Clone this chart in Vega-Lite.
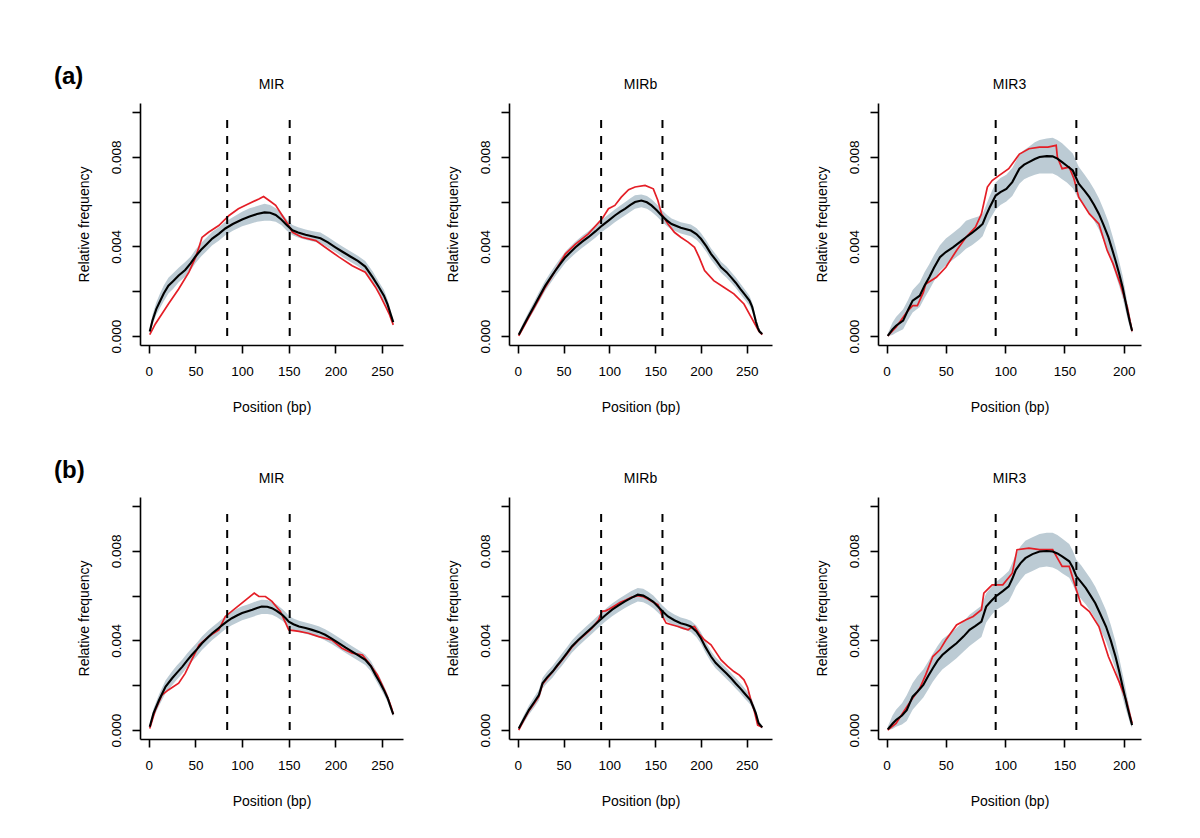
{
"$schema": "https://vega.github.io/schema/vega-lite/v6.json",
"background": "white",
"padding": {"left": 54, "top": 65, "right": 5, "bottom": 5},
"config": {
  "view": {"stroke": null},
  "font": "Liberation Sans",
  "axis": {"grid": false, "domainColor": "#000", "domainWidth": 1.6, "tickColor": "#000", "tickWidth": 1.6, "tickSize": 8, "labelColor": "#000", "labelFontSize": 13.5, "labelFont": "Liberation Sans", "titleFont": "Liberation Sans", "titleFontSize": 14, "titleFontWeight": "normal", "titleColor": "#000", "labelOverlap": false, "labelFlush": false},
  "axisX": {"labelPadding": 11, "titlePadding": 23},
  "axisY": {"labelAngle": 270, "labelAlign": "center", "labelBaseline": "bottom", "labelPadding": 9, "titlePadding": 18},
  "title": {"fontSize": 14, "fontWeight": "normal", "font": "Liberation Sans", "anchor": "middle", "frame": "group", "offset": 11, "color": "#000"}
},
"datasets": {
"band": [
{"p":"a1","x":1,"m":0.0002,"lo":0.0001,"hi":0.0003},{"p":"a1","x":4,"m":0.0007,"lo":0.0005,"hi":0.00095},{"p":"a1","x":8,"m":0.0012,"lo":0.00095,"hi":0.0015},{"p":"a1","x":12,"m":0.00155,"lo":0.00125,"hi":0.0019},{"p":"a1","x":16,"m":0.0019,"lo":0.00155,"hi":0.00225},{"p":"a1","x":21,"m":0.00225,"lo":0.0019,"hi":0.0026},{"p":"a1","x":26,"m":0.00245,"lo":0.0021,"hi":0.0028},{"p":"a1","x":32,"m":0.0027,"lo":0.0024,"hi":0.00305},{"p":"a1","x":39,"m":0.00295,"lo":0.00265,"hi":0.0033},{"p":"a1","x":45,"m":0.00325,"lo":0.00295,"hi":0.00355},{"p":"a1","x":50,"m":0.00355,"lo":0.00325,"hi":0.00385},{"p":"a1","x":56,"m":0.00385,"lo":0.00355,"hi":0.00415},{"p":"a1","x":62,"m":0.0041,"lo":0.0038,"hi":0.0044},{"p":"a1","x":68,"m":0.00435,"lo":0.00405,"hi":0.00465},{"p":"a1","x":75,"m":0.00456,"lo":0.00425,"hi":0.00485},{"p":"a1","x":82,"m":0.0048,"lo":0.0045,"hi":0.0051},{"p":"a1","x":90,"m":0.005,"lo":0.0047,"hi":0.0053},{"p":"a1","x":100,"m":0.0052,"lo":0.0049,"hi":0.00555},{"p":"a1","x":108,"m":0.00533,"lo":0.005,"hi":0.0057},{"p":"a1","x":116,"m":0.00545,"lo":0.0051,"hi":0.0058},{"p":"a1","x":124,"m":0.00552,"lo":0.00515,"hi":0.0059},{"p":"a1","x":130,"m":0.0055,"lo":0.00515,"hi":0.00585},{"p":"a1","x":136,"m":0.0054,"lo":0.0051,"hi":0.0057},{"p":"a1","x":142,"m":0.0052,"lo":0.00495,"hi":0.0055},{"p":"a1","x":148,"m":0.00495,"lo":0.0047,"hi":0.0052},{"p":"a1","x":154,"m":0.00472,"lo":0.0045,"hi":0.00495},{"p":"a1","x":160,"m":0.00462,"lo":0.0044,"hi":0.00485},{"p":"a1","x":168,"m":0.00452,"lo":0.0043,"hi":0.00475},{"p":"a1","x":176,"m":0.00444,"lo":0.00422,"hi":0.00468},{"p":"a1","x":184,"m":0.00436,"lo":0.00415,"hi":0.00462},{"p":"a1","x":192,"m":0.00418,"lo":0.00395,"hi":0.00442},{"p":"a1","x":200,"m":0.00396,"lo":0.00375,"hi":0.0042},{"p":"a1","x":208,"m":0.00375,"lo":0.00352,"hi":0.00398},{"p":"a1","x":216,"m":0.00355,"lo":0.00332,"hi":0.00378},{"p":"a1","x":224,"m":0.00335,"lo":0.00312,"hi":0.00358},{"p":"a1","x":232,"m":0.0031,"lo":0.00288,"hi":0.00335},{"p":"a1","x":240,"m":0.00262,"lo":0.0024,"hi":0.00288},{"p":"a1","x":246,"m":0.00222,"lo":0.002,"hi":0.00246},{"p":"a1","x":252,"m":0.0018,"lo":0.00155,"hi":0.00205},{"p":"a1","x":256,"m":0.0014,"lo":0.0012,"hi":0.00162},{"p":"a1","x":259,"m":0.001,"lo":0.00085,"hi":0.00118},{"p":"a1","x":262,"m":0.00062,"lo":0.0005,"hi":0.00075},

{"p":"a2","x":1,"m":0.00006,"lo":0.0,"hi":0.00015},{"p":"a2","x":6,"m":0.00045,"lo":0.0003,"hi":0.0006},{"p":"a2","x":12,"m":0.00091,"lo":0.00075,"hi":0.0011},{"p":"a2","x":18,"m":0.00135,"lo":0.00115,"hi":0.00155},{"p":"a2","x":23,"m":0.00173,"lo":0.00152,"hi":0.00195},{"p":"a2","x":30,"m":0.00225,"lo":0.00202,"hi":0.00248},{"p":"a2","x":36,"m":0.00262,"lo":0.00238,"hi":0.00286},{"p":"a2","x":41,"m":0.00292,"lo":0.00268,"hi":0.00316},{"p":"a2","x":47,"m":0.00325,"lo":0.003,"hi":0.0035},{"p":"a2","x":52,"m":0.00352,"lo":0.00327,"hi":0.00377},{"p":"a2","x":58,"m":0.00376,"lo":0.0035,"hi":0.00402},{"p":"a2","x":63,"m":0.00396,"lo":0.0037,"hi":0.00422},{"p":"a2","x":70,"m":0.0042,"lo":0.00393,"hi":0.00446},{"p":"a2","x":77,"m":0.00441,"lo":0.00414,"hi":0.00468},{"p":"a2","x":85,"m":0.00468,"lo":0.0044,"hi":0.00495},{"p":"a2","x":92,"m":0.00493,"lo":0.00465,"hi":0.0052},{"p":"a2","x":99,"m":0.00515,"lo":0.00486,"hi":0.00542},{"p":"a2","x":106,"m":0.00538,"lo":0.00508,"hi":0.00565},{"p":"a2","x":112,"m":0.00555,"lo":0.00525,"hi":0.00583},{"p":"a2","x":117,"m":0.00568,"lo":0.00538,"hi":0.00597},{"p":"a2","x":123,"m":0.00585,"lo":0.00555,"hi":0.00615},{"p":"a2","x":128,"m":0.00598,"lo":0.00568,"hi":0.00628},{"p":"a2","x":135,"m":0.00605,"lo":0.00575,"hi":0.00632},{"p":"a2","x":141,"m":0.00597,"lo":0.00568,"hi":0.00625},{"p":"a2","x":146,"m":0.00583,"lo":0.00555,"hi":0.0061},{"p":"a2","x":152,"m":0.0056,"lo":0.00533,"hi":0.00587},{"p":"a2","x":157,"m":0.00538,"lo":0.00512,"hi":0.00564},{"p":"a2","x":163,"m":0.00515,"lo":0.0049,"hi":0.0054},{"p":"a2","x":168,"m":0.005,"lo":0.00476,"hi":0.00525},{"p":"a2","x":178,"m":0.00483,"lo":0.00458,"hi":0.00508},{"p":"a2","x":189,"m":0.00471,"lo":0.00445,"hi":0.00498},{"p":"a2","x":195,"m":0.00455,"lo":0.0043,"hi":0.00482},{"p":"a2","x":200,"m":0.00434,"lo":0.00408,"hi":0.0046},{"p":"a2","x":206,"m":0.004,"lo":0.00375,"hi":0.00425},{"p":"a2","x":211,"m":0.00367,"lo":0.00342,"hi":0.00392},{"p":"a2","x":217,"m":0.00335,"lo":0.0031,"hi":0.0036},{"p":"a2","x":222,"m":0.00307,"lo":0.00282,"hi":0.00332},{"p":"a2","x":228,"m":0.00285,"lo":0.0026,"hi":0.0031},{"p":"a2","x":233,"m":0.00262,"lo":0.00238,"hi":0.00286},{"p":"a2","x":238,"m":0.00238,"lo":0.00215,"hi":0.00262},{"p":"a2","x":243,"m":0.0021,"lo":0.00188,"hi":0.00234},{"p":"a2","x":248,"m":0.00185,"lo":0.00162,"hi":0.00208},{"p":"a2","x":253,"m":0.00158,"lo":0.00135,"hi":0.0018},{"p":"a2","x":256,"m":0.0013,"lo":0.0011,"hi":0.0015},{"p":"a2","x":258,"m":0.00098,"lo":0.0008,"hi":0.00118},{"p":"a2","x":260,"m":0.00065,"lo":0.0005,"hi":0.00082},{"p":"a2","x":262,"m":0.00039,"lo":0.00028,"hi":0.00052},{"p":"a2","x":264,"m":0.0002,"lo":0.00012,"hi":0.0003},{"p":"a2","x":267,"m":0.00009,"lo":0.00004,"hi":0.00016},

{"p":"a3","x":1,"m":0.00001,"lo":0.0,"hi":0.0001},{"p":"a3","x":5,"m":0.0003,"lo":0.00005,"hi":0.0006},{"p":"a3","x":8,"m":0.00046,"lo":0.00015,"hi":0.00085},{"p":"a3","x":14,"m":0.00069,"lo":0.0003,"hi":0.0012},{"p":"a3","x":18,"m":0.00115,"lo":0.0007,"hi":0.0016},{"p":"a3","x":22,"m":0.00158,"lo":0.00105,"hi":0.00205},{"p":"a3","x":28,"m":0.0018,"lo":0.0013,"hi":0.0024},{"p":"a3","x":32,"m":0.00225,"lo":0.0017,"hi":0.00285},{"p":"a3","x":36,"m":0.00262,"lo":0.00205,"hi":0.0032},{"p":"a3","x":40,"m":0.00305,"lo":0.00245,"hi":0.0036},{"p":"a3","x":45,"m":0.00352,"lo":0.0029,"hi":0.00405},{"p":"a3","x":50,"m":0.00375,"lo":0.00315,"hi":0.00435},{"p":"a3","x":56,"m":0.00396,"lo":0.0034,"hi":0.0046},{"p":"a3","x":62,"m":0.0042,"lo":0.00365,"hi":0.00485},{"p":"a3","x":67,"m":0.00441,"lo":0.0039,"hi":0.00515},{"p":"a3","x":72,"m":0.0046,"lo":0.00405,"hi":0.00525},{"p":"a3","x":78,"m":0.00486,"lo":0.0043,"hi":0.00535},{"p":"a3","x":81,"m":0.005,"lo":0.00445,"hi":0.00545},{"p":"a3","x":84,"m":0.0054,"lo":0.00485,"hi":0.00585},{"p":"a3","x":87,"m":0.00575,"lo":0.0052,"hi":0.00625},{"p":"a3","x":92,"m":0.00627,"lo":0.00565,"hi":0.00685},{"p":"a3","x":96,"m":0.00642,"lo":0.00585,"hi":0.00705},{"p":"a3","x":101,"m":0.00657,"lo":0.006,"hi":0.0072},{"p":"a3","x":106,"m":0.00687,"lo":0.00625,"hi":0.0075},{"p":"a3","x":112,"m":0.00747,"lo":0.0068,"hi":0.0081},{"p":"a3","x":116,"m":0.00765,"lo":0.007,"hi":0.0083},{"p":"a3","x":120,"m":0.00776,"lo":0.0071,"hi":0.00845},{"p":"a3","x":125,"m":0.0079,"lo":0.0072,"hi":0.00865},{"p":"a3","x":129,"m":0.00799,"lo":0.00725,"hi":0.00875},{"p":"a3","x":135,"m":0.00803,"lo":0.00725,"hi":0.00882},{"p":"a3","x":140,"m":0.00802,"lo":0.00725,"hi":0.00885},{"p":"a3","x":144,"m":0.00792,"lo":0.00715,"hi":0.00875},{"p":"a3","x":148,"m":0.00776,"lo":0.007,"hi":0.0086},{"p":"a3","x":152,"m":0.0076,"lo":0.00685,"hi":0.0084},{"p":"a3","x":157,"m":0.00739,"lo":0.0066,"hi":0.00815},{"p":"a3","x":162,"m":0.0068,"lo":0.0061,"hi":0.00755},{"p":"a3","x":167,"m":0.00648,"lo":0.0058,"hi":0.0072},{"p":"a3","x":171,"m":0.0062,"lo":0.0055,"hi":0.0069},{"p":"a3","x":175,"m":0.00585,"lo":0.00515,"hi":0.00655},{"p":"a3","x":179,"m":0.00545,"lo":0.00475,"hi":0.00615},{"p":"a3","x":183,"m":0.00495,"lo":0.00425,"hi":0.00565},{"p":"a3","x":187,"m":0.00441,"lo":0.00375,"hi":0.0051},{"p":"a3","x":190,"m":0.0039,"lo":0.00325,"hi":0.00455},{"p":"a3","x":193,"m":0.00337,"lo":0.00275,"hi":0.004},{"p":"a3","x":196,"m":0.0028,"lo":0.00225,"hi":0.00335},{"p":"a3","x":199,"m":0.00218,"lo":0.0017,"hi":0.0027},{"p":"a3","x":201,"m":0.00165,"lo":0.00125,"hi":0.0021},{"p":"a3","x":203,"m":0.00113,"lo":0.0008,"hi":0.0015},{"p":"a3","x":205,"m":0.00065,"lo":0.0004,"hi":0.00095},{"p":"a3","x":207,"m":0.00024,"lo":0.0001,"hi":0.0004},

{"p":"b1","x":1,"m":0.00015,"lo":0.00005,"hi":0.00025},{"p":"b1","x":5,"m":0.00075,"lo":0.00055,"hi":0.00095},{"p":"b1","x":11,"m":0.00134,"lo":0.00108,"hi":0.0016},{"p":"b1","x":18,"m":0.00194,"lo":0.00165,"hi":0.00222},{"p":"b1","x":25,"m":0.00231,"lo":0.002,"hi":0.00262},{"p":"b1","x":30,"m":0.00255,"lo":0.00224,"hi":0.00288},{"p":"b1","x":36,"m":0.00283,"lo":0.00252,"hi":0.00315},{"p":"b1","x":41,"m":0.0031,"lo":0.0028,"hi":0.00342},{"p":"b1","x":46,"m":0.00335,"lo":0.00305,"hi":0.00365},{"p":"b1","x":52,"m":0.00362,"lo":0.00332,"hi":0.00392},{"p":"b1","x":57,"m":0.00387,"lo":0.00357,"hi":0.00417},{"p":"b1","x":63,"m":0.00412,"lo":0.00382,"hi":0.00442},{"p":"b1","x":68,"m":0.00432,"lo":0.00402,"hi":0.0046},{"p":"b1","x":74,"m":0.00452,"lo":0.00422,"hi":0.0048},{"p":"b1","x":79,"m":0.00469,"lo":0.0044,"hi":0.00498},{"p":"b1","x":84,"m":0.00485,"lo":0.00455,"hi":0.00513},{"p":"b1","x":89,"m":0.00499,"lo":0.00468,"hi":0.00528},{"p":"b1","x":95,"m":0.00512,"lo":0.0048,"hi":0.00542},{"p":"b1","x":100,"m":0.00522,"lo":0.0049,"hi":0.00552},{"p":"b1","x":106,"m":0.0053,"lo":0.00498,"hi":0.0056},{"p":"b1","x":111,"m":0.00537,"lo":0.00505,"hi":0.00568},{"p":"b1","x":116,"m":0.00545,"lo":0.00512,"hi":0.00576},{"p":"b1","x":121,"m":0.00551,"lo":0.00518,"hi":0.00582},{"p":"b1","x":127,"m":0.0055,"lo":0.00518,"hi":0.0058},{"p":"b1","x":132,"m":0.00544,"lo":0.00514,"hi":0.00572},{"p":"b1","x":137,"m":0.00532,"lo":0.00504,"hi":0.0056},{"p":"b1","x":143,"m":0.00514,"lo":0.00488,"hi":0.0054},{"p":"b1","x":147,"m":0.00498,"lo":0.00472,"hi":0.00525},{"p":"b1","x":150,"m":0.00484,"lo":0.00458,"hi":0.0051},{"p":"b1","x":155,"m":0.00472,"lo":0.00447,"hi":0.00498},{"p":"b1","x":161,"m":0.00462,"lo":0.00438,"hi":0.00488},{"p":"b1","x":168,"m":0.00455,"lo":0.0043,"hi":0.0048},{"p":"b1","x":175,"m":0.00447,"lo":0.00422,"hi":0.00472},{"p":"b1","x":182,"m":0.00438,"lo":0.00414,"hi":0.00463},{"p":"b1","x":189,"m":0.00425,"lo":0.004,"hi":0.0045},{"p":"b1","x":196,"m":0.00408,"lo":0.00384,"hi":0.00433},{"p":"b1","x":204,"m":0.00387,"lo":0.00363,"hi":0.00412},{"p":"b1","x":211,"m":0.00368,"lo":0.00344,"hi":0.00393},{"p":"b1","x":218,"m":0.0035,"lo":0.00326,"hi":0.00374},{"p":"b1","x":225,"m":0.00332,"lo":0.00308,"hi":0.00356},{"p":"b1","x":232,"m":0.00313,"lo":0.0029,"hi":0.00337},{"p":"b1","x":238,"m":0.00285,"lo":0.00262,"hi":0.00308},{"p":"b1","x":243,"m":0.00246,"lo":0.00224,"hi":0.0027},{"p":"b1","x":248,"m":0.0021,"lo":0.00188,"hi":0.00232},{"p":"b1","x":252,"m":0.00178,"lo":0.00158,"hi":0.00198},{"p":"b1","x":256,"m":0.00142,"lo":0.00124,"hi":0.0016},{"p":"b1","x":259,"m":0.00105,"lo":0.0009,"hi":0.00122},{"p":"b1","x":262,"m":0.0007,"lo":0.00058,"hi":0.00082},

{"p":"b2","x":1,"m":0.00007,"lo":0.0,"hi":0.00016},{"p":"b2","x":6,"m":0.00045,"lo":0.00028,"hi":0.00062},{"p":"b2","x":12,"m":0.00089,"lo":0.00068,"hi":0.0011},{"p":"b2","x":18,"m":0.00125,"lo":0.00102,"hi":0.00148},{"p":"b2","x":23,"m":0.00156,"lo":0.00132,"hi":0.0018},{"p":"b2","x":27,"m":0.00209,"lo":0.00185,"hi":0.00233},{"p":"b2","x":32,"m":0.00235,"lo":0.0021,"hi":0.0026},{"p":"b2","x":38,"m":0.00261,"lo":0.00235,"hi":0.00287},{"p":"b2","x":43,"m":0.00288,"lo":0.00262,"hi":0.00314},{"p":"b2","x":48,"m":0.00313,"lo":0.00286,"hi":0.0034},{"p":"b2","x":54,"m":0.00345,"lo":0.00318,"hi":0.00372},{"p":"b2","x":59,"m":0.00373,"lo":0.00345,"hi":0.004},{"p":"b2","x":66,"m":0.00402,"lo":0.00374,"hi":0.0043},{"p":"b2","x":74,"m":0.00432,"lo":0.00404,"hi":0.0046},{"p":"b2","x":81,"m":0.00458,"lo":0.0043,"hi":0.00486},{"p":"b2","x":88,"m":0.00484,"lo":0.00456,"hi":0.00512},{"p":"b2","x":95,"m":0.0051,"lo":0.00482,"hi":0.00538},{"p":"b2","x":103,"m":0.00537,"lo":0.00508,"hi":0.00565},{"p":"b2","x":110,"m":0.00556,"lo":0.00527,"hi":0.00585},{"p":"b2","x":117,"m":0.00574,"lo":0.00545,"hi":0.00603},{"p":"b2","x":124,"m":0.0059,"lo":0.0056,"hi":0.0062},{"p":"b2","x":131,"m":0.00604,"lo":0.00574,"hi":0.00634},{"p":"b2","x":137,"m":0.006,"lo":0.0057,"hi":0.0063},{"p":"b2","x":142,"m":0.00589,"lo":0.0056,"hi":0.00618},{"p":"b2","x":148,"m":0.00572,"lo":0.00544,"hi":0.006},{"p":"b2","x":153,"m":0.00551,"lo":0.00524,"hi":0.00578},{"p":"b2","x":158,"m":0.0053,"lo":0.00504,"hi":0.00556},{"p":"b2","x":164,"m":0.00507,"lo":0.00482,"hi":0.00533},{"p":"b2","x":171,"m":0.0049,"lo":0.00465,"hi":0.00516},{"p":"b2","x":178,"m":0.00477,"lo":0.00452,"hi":0.00502},{"p":"b2","x":184,"m":0.0047,"lo":0.00445,"hi":0.00495},{"p":"b2","x":189,"m":0.00462,"lo":0.00437,"hi":0.00488},{"p":"b2","x":195,"m":0.0044,"lo":0.00415,"hi":0.00466},{"p":"b2","x":200,"m":0.0041,"lo":0.00385,"hi":0.00436},{"p":"b2","x":205,"m":0.0037,"lo":0.00345,"hi":0.00396},{"p":"b2","x":211,"m":0.00328,"lo":0.00304,"hi":0.00353},{"p":"b2","x":216,"m":0.003,"lo":0.00276,"hi":0.00325},{"p":"b2","x":222,"m":0.00276,"lo":0.00252,"hi":0.003},{"p":"b2","x":228,"m":0.00252,"lo":0.00228,"hi":0.00276},{"p":"b2","x":233,"m":0.00231,"lo":0.00208,"hi":0.00255},{"p":"b2","x":238,"m":0.00208,"lo":0.00185,"hi":0.00232},{"p":"b2","x":243,"m":0.00186,"lo":0.00164,"hi":0.0021},{"p":"b2","x":248,"m":0.00162,"lo":0.0014,"hi":0.00185},{"p":"b2","x":254,"m":0.00134,"lo":0.00114,"hi":0.00155},{"p":"b2","x":257,"m":0.00105,"lo":0.00088,"hi":0.00124},{"p":"b2","x":260,"m":0.00075,"lo":0.0006,"hi":0.00092},{"p":"b2","x":263,"m":0.0003,"lo":0.0002,"hi":0.00042},{"p":"b2","x":267,"m":0.00012,"lo":0.00005,"hi":0.0002},

{"p":"b3","x":1,"m":0.00003,"lo":0.0,"hi":0.00015},{"p":"b3","x":5,"m":0.00028,"lo":0.00005,"hi":0.00065},{"p":"b3","x":8,"m":0.00045,"lo":0.00015,"hi":0.0009},{"p":"b3","x":13,"m":0.00065,"lo":0.00025,"hi":0.0012},{"p":"b3","x":17,"m":0.00089,"lo":0.0004,"hi":0.00155},{"p":"b3","x":22,"m":0.00149,"lo":0.0009,"hi":0.0021},{"p":"b3","x":26,"m":0.00171,"lo":0.00115,"hi":0.0024},{"p":"b3","x":31,"m":0.00201,"lo":0.00145,"hi":0.0027},{"p":"b3","x":35,"m":0.0024,"lo":0.0018,"hi":0.00305},{"p":"b3","x":39,"m":0.00276,"lo":0.00215,"hi":0.0034},{"p":"b3","x":43,"m":0.0031,"lo":0.00245,"hi":0.00375},{"p":"b3","x":47,"m":0.00335,"lo":0.0027,"hi":0.00405},{"p":"b3","x":53,"m":0.00362,"lo":0.00295,"hi":0.0043},{"p":"b3","x":59,"m":0.00387,"lo":0.0032,"hi":0.00455},{"p":"b3","x":65,"m":0.00418,"lo":0.0035,"hi":0.00485},{"p":"b3","x":70,"m":0.00447,"lo":0.00375,"hi":0.00515},{"p":"b3","x":75,"m":0.00465,"lo":0.00395,"hi":0.00535},{"p":"b3","x":80,"m":0.00484,"lo":0.00415,"hi":0.00555},{"p":"b3","x":84,"m":0.00551,"lo":0.0048,"hi":0.0061},{"p":"b3","x":88,"m":0.00575,"lo":0.0051,"hi":0.00635},{"p":"b3","x":92,"m":0.00596,"lo":0.00535,"hi":0.0066},{"p":"b3","x":98,"m":0.0062,"lo":0.00555,"hi":0.00685},{"p":"b3","x":103,"m":0.00641,"lo":0.00575,"hi":0.0071},{"p":"b3","x":106,"m":0.00675,"lo":0.00605,"hi":0.00745},{"p":"b3","x":109,"m":0.00715,"lo":0.0064,"hi":0.00785},{"p":"b3","x":113,"m":0.00745,"lo":0.0067,"hi":0.0082},{"p":"b3","x":117,"m":0.00767,"lo":0.00695,"hi":0.00845},{"p":"b3","x":123,"m":0.00785,"lo":0.0071,"hi":0.0086},{"p":"b3","x":129,"m":0.00797,"lo":0.00725,"hi":0.00875},{"p":"b3","x":135,"m":0.00799,"lo":0.0073,"hi":0.0088},{"p":"b3","x":140,"m":0.00797,"lo":0.00725,"hi":0.0088},{"p":"b3","x":144,"m":0.00788,"lo":0.00715,"hi":0.0087},{"p":"b3","x":148,"m":0.00775,"lo":0.007,"hi":0.00855},{"p":"b3","x":154,"m":0.00753,"lo":0.0068,"hi":0.0083},{"p":"b3","x":157,"m":0.00725,"lo":0.0065,"hi":0.008},{"p":"b3","x":160,"m":0.00686,"lo":0.0061,"hi":0.0076},{"p":"b3","x":164,"m":0.0066,"lo":0.00585,"hi":0.00735},{"p":"b3","x":168,"m":0.00633,"lo":0.0056,"hi":0.00705},{"p":"b3","x":172,"m":0.006,"lo":0.0053,"hi":0.00675},{"p":"b3","x":176,"m":0.00566,"lo":0.00495,"hi":0.0064},{"p":"b3","x":180,"m":0.0052,"lo":0.0045,"hi":0.00595},{"p":"b3","x":185,"m":0.00462,"lo":0.00395,"hi":0.00535},{"p":"b3","x":189,"m":0.004,"lo":0.00335,"hi":0.0047},{"p":"b3","x":193,"m":0.00328,"lo":0.0027,"hi":0.00395},{"p":"b3","x":196,"m":0.00265,"lo":0.0021,"hi":0.00325},{"p":"b3","x":199,"m":0.00194,"lo":0.00145,"hi":0.0025},{"p":"b3","x":201,"m":0.0015,"lo":0.00105,"hi":0.002},{"p":"b3","x":203,"m":0.00104,"lo":0.0007,"hi":0.00145},{"p":"b3","x":205,"m":0.00062,"lo":0.00035,"hi":0.00095},{"p":"b3","x":207,"m":0.00022,"lo":0.00008,"hi":0.0004}
],
"obs": [
{"p":"a1","x":1,"y":0.00006},{"p":"a1","x":7,"y":0.00054},{"p":"a1","x":14,"y":0.00098},{"p":"a1","x":21,"y":0.00143},{"p":"a1","x":32,"y":0.0021},{"p":"a1","x":43,"y":0.00285},{"p":"a1","x":50,"y":0.0035},{"p":"a1","x":54,"y":0.004},{"p":"a1","x":57,"y":0.0044},{"p":"a1","x":64,"y":0.00463},{"p":"a1","x":75,"y":0.00493},{"p":"a1","x":86,"y":0.00538},{"p":"a1","x":96,"y":0.00568},{"p":"a1","x":107,"y":0.0059},{"p":"a1","x":118,"y":0.00612},{"p":"a1","x":123,"y":0.00623},{"p":"a1","x":129,"y":0.00605},{"p":"a1","x":136,"y":0.00583},{"p":"a1","x":143,"y":0.00538},{"p":"a1","x":150,"y":0.00493},{"p":"a1","x":154,"y":0.00463},{"p":"a1","x":164,"y":0.00441},{"p":"a1","x":179,"y":0.00426},{"p":"a1","x":189,"y":0.00396},{"p":"a1","x":204,"y":0.00352},{"p":"a1","x":218,"y":0.00314},{"p":"a1","x":232,"y":0.00285},{"p":"a1","x":243,"y":0.00218},{"p":"a1","x":248,"y":0.0018},{"p":"a1","x":254,"y":0.0013},{"p":"a1","x":258,"y":0.00095},{"p":"a1","x":262,"y":0.0005},

{"p":"a2","x":1,"y":0.00001},{"p":"a2","x":12,"y":0.00083},{"p":"a2","x":23,"y":0.00165},{"p":"a2","x":30,"y":0.00218},{"p":"a2","x":41,"y":0.00292},{"p":"a2","x":52,"y":0.00367},{"p":"a2","x":63,"y":0.0041},{"p":"a2","x":77,"y":0.00456},{"p":"a2","x":92,"y":0.00523},{"p":"a2","x":99,"y":0.00568},{"p":"a2","x":106,"y":0.00583},{"p":"a2","x":113,"y":0.0062},{"p":"a2","x":121,"y":0.00653},{"p":"a2","x":128,"y":0.00665},{"p":"a2","x":139,"y":0.00672},{"p":"a2","x":148,"y":0.00657},{"p":"a2","x":153,"y":0.00605},{"p":"a2","x":157,"y":0.00545},{"p":"a2","x":164,"y":0.005},{"p":"a2","x":171,"y":0.00463},{"p":"a2","x":178,"y":0.00441},{"p":"a2","x":186,"y":0.00419},{"p":"a2","x":193,"y":0.00396},{"p":"a2","x":198,"y":0.00352},{"p":"a2","x":204,"y":0.00292},{"p":"a2","x":214,"y":0.00247},{"p":"a2","x":225,"y":0.00218},{"p":"a2","x":236,"y":0.00188},{"p":"a2","x":247,"y":0.00143},{"p":"a2","x":255,"y":0.00083},{"p":"a2","x":263,"y":0.00024},{"p":"a2","x":267,"y":0.00006},

{"p":"a3","x":1,"y":0.0},{"p":"a3","x":8,"y":0.00039},{"p":"a3","x":17,"y":0.00106},{"p":"a3","x":22,"y":0.00136},{"p":"a3","x":26,"y":0.00136},{"p":"a3","x":31,"y":0.00195},{"p":"a3","x":33,"y":0.00232},{"p":"a3","x":42,"y":0.00262},{"p":"a3","x":50,"y":0.00307},{"p":"a3","x":59,"y":0.00382},{"p":"a3","x":67,"y":0.00441},{"p":"a3","x":75,"y":0.00486},{"p":"a3","x":80,"y":0.00545},{"p":"a3","x":85,"y":0.00665},{"p":"a3","x":89,"y":0.00694},{"p":"a3","x":95,"y":0.00717},{"p":"a3","x":103,"y":0.00747},{"p":"a3","x":112,"y":0.00812},{"p":"a3","x":120,"y":0.00836},{"p":"a3","x":129,"y":0.00843},{"p":"a3","x":136,"y":0.00843},{"p":"a3","x":143,"y":0.00851},{"p":"a3","x":144,"y":0.00799},{"p":"a3","x":148,"y":0.00747},{"p":"a3","x":154,"y":0.00754},{"p":"a3","x":158,"y":0.00702},{"p":"a3","x":162,"y":0.0062},{"p":"a3","x":171,"y":0.00545},{"p":"a3","x":179,"y":0.005},{"p":"a3","x":186,"y":0.00382},{"p":"a3","x":191,"y":0.00322},{"p":"a3","x":197,"y":0.00232},{"p":"a3","x":203,"y":0.00128},{"p":"a3","x":207,"y":0.00021},

{"p":"b1","x":1,"y":0.00007},{"p":"b1","x":7,"y":0.00089},{"p":"b1","x":14,"y":0.00156},{"p":"b1","x":21,"y":0.00179},{"p":"b1","x":32,"y":0.00209},{"p":"b1","x":39,"y":0.00253},{"p":"b1","x":46,"y":0.00313},{"p":"b1","x":54,"y":0.0038},{"p":"b1","x":64,"y":0.00417},{"p":"b1","x":75,"y":0.00447},{"p":"b1","x":82,"y":0.00507},{"p":"b1","x":93,"y":0.00544},{"p":"b1","x":104,"y":0.00581},{"p":"b1","x":113,"y":0.00611},{"p":"b1","x":118,"y":0.00596},{"p":"b1","x":125,"y":0.00596},{"p":"b1","x":132,"y":0.00574},{"p":"b1","x":141,"y":0.00529},{"p":"b1","x":146,"y":0.00484},{"p":"b1","x":150,"y":0.00447},{"p":"b1","x":161,"y":0.0044},{"p":"b1","x":171,"y":0.00432},{"p":"b1","x":182,"y":0.00417},{"p":"b1","x":196,"y":0.00402},{"p":"b1","x":207,"y":0.00365},{"p":"b1","x":218,"y":0.00343},{"p":"b1","x":229,"y":0.00335},{"p":"b1","x":236,"y":0.00298},{"p":"b1","x":245,"y":0.00246},{"p":"b1","x":249,"y":0.0021},{"p":"b1","x":253,"y":0.00175},{"p":"b1","x":257,"y":0.00135},{"p":"b1","x":260,"y":0.001},{"p":"b1","x":262,"y":0.0007},

{"p":"b2","x":1,"y":0.0},{"p":"b2","x":6,"y":0.0004},{"p":"b2","x":12,"y":0.00085},{"p":"b2","x":18,"y":0.0012},{"p":"b2","x":23,"y":0.0015},{"p":"b2","x":27,"y":0.00205},{"p":"b2","x":32,"y":0.0023},{"p":"b2","x":38,"y":0.0026},{"p":"b2","x":43,"y":0.00285},{"p":"b2","x":48,"y":0.0031},{"p":"b2","x":54,"y":0.00342},{"p":"b2","x":59,"y":0.0037},{"p":"b2","x":66,"y":0.004},{"p":"b2","x":74,"y":0.00428},{"p":"b2","x":81,"y":0.00455},{"p":"b2","x":88,"y":0.0049},{"p":"b2","x":92,"y":0.0053},{"p":"b2","x":96,"y":0.00532},{"p":"b2","x":100,"y":0.0054},{"p":"b2","x":106,"y":0.00555},{"p":"b2","x":112,"y":0.0057},{"p":"b2","x":118,"y":0.0058},{"p":"b2","x":124,"y":0.00592},{"p":"b2","x":131,"y":0.006},{"p":"b2","x":137,"y":0.00595},{"p":"b2","x":142,"y":0.00585},{"p":"b2","x":148,"y":0.0057},{"p":"b2","x":153,"y":0.0056},{"p":"b2","x":156,"y":0.0053},{"p":"b2","x":158,"y":0.00507},{"p":"b2","x":162,"y":0.00477},{"p":"b2","x":168,"y":0.0047},{"p":"b2","x":175,"y":0.00462},{"p":"b2","x":180,"y":0.00455},{"p":"b2","x":186,"y":0.00447},{"p":"b2","x":190,"y":0.0046},{"p":"b2","x":193,"y":0.00462},{"p":"b2","x":198,"y":0.0043},{"p":"b2","x":204,"y":0.00402},{"p":"b2","x":211,"y":0.0038},{"p":"b2","x":216,"y":0.0035},{"p":"b2","x":222,"y":0.00313},{"p":"b2","x":229,"y":0.00285},{"p":"b2","x":236,"y":0.00261},{"p":"b2","x":242,"y":0.00245},{"p":"b2","x":247,"y":0.00224},{"p":"b2","x":251,"y":0.0019},{"p":"b2","x":254,"y":0.00142},{"p":"b2","x":258,"y":0.0009},{"p":"b2","x":262,"y":0.00022},{"p":"b2","x":267,"y":0.00012},

{"p":"b3","x":1,"y":0.0},{"p":"b3","x":8,"y":0.0003},{"p":"b3","x":19,"y":0.00119},{"p":"b3","x":28,"y":0.00186},{"p":"b3","x":33,"y":0.00246},{"p":"b3","x":39,"y":0.00328},{"p":"b3","x":45,"y":0.00358},{"p":"b3","x":50,"y":0.00402},{"p":"b3","x":59,"y":0.00469},{"p":"b3","x":67,"y":0.00492},{"p":"b3","x":73,"y":0.00507},{"p":"b3","x":80,"y":0.00537},{"p":"b3","x":82,"y":0.00611},{"p":"b3","x":89,"y":0.00648},{"p":"b3","x":98,"y":0.00648},{"p":"b3","x":106,"y":0.007},{"p":"b3","x":110,"y":0.00805},{"p":"b3","x":120,"y":0.00812},{"p":"b3","x":129,"y":0.00805},{"p":"b3","x":140,"y":0.00805},{"p":"b3","x":148,"y":0.0073},{"p":"b3","x":154,"y":0.0073},{"p":"b3","x":160,"y":0.00626},{"p":"b3","x":164,"y":0.00559},{"p":"b3","x":171,"y":0.00529},{"p":"b3","x":179,"y":0.00462},{"p":"b3","x":187,"y":0.00328},{"p":"b3","x":196,"y":0.00216},{"p":"b3","x":202,"y":0.00134},{"p":"b3","x":207,"y":0.0003}
],
"cuts": [
{"p":"a1","x":84},{"p":"a1","x":151},{"p":"a2","x":91},{"p":"a2","x":158},{"p":"a3","x":92},{"p":"a3","x":160},
{"p":"b1","x":84},{"p":"b1","x":151},{"p":"b2","x":91},{"p":"b2","x":158},{"p":"b3","x":92},{"p":"b3","x":160}
]
},
"spacing": 44,
"vconcat": [
{
"title": {"text": "(a)", "anchor": "start", "fontSize": 24, "fontWeight": "bold", "offset": 0, "dx": -86, "dy": 11},
"bounds": "flush",
"spacing": 106,
"hconcat": [
{"title": "MIR", "width": 263, "height": 242, "layer": [
 {"data": {"name": "band"}, "transform": [{"filter": "datum.p == 'a1'"}], "mark": {"type": "area", "color": "#bccbd4", "opacity": 1},
  "encoding": {"x": {"field": "x", "type": "quantitative", "scale": {"domain": [-9.44, 272.44], "nice": false, "zero": false}, "axis": {"values": [0, 50, 100, 150, 200, 250], "title": "Position (bp)"}},
   "y": {"field": "lo", "type": "quantitative", "scale": {"domain": [-0.0004, 0.0104], "nice": false, "zero": false}, "axis": {"values": [0, 0.002, 0.004, 0.006, 0.008, 0.01], "labelExpr": "(datum.value < 0.0001 || abs(datum.value - 0.004) < 0.0001 || abs(datum.value - 0.008) < 0.0001) ? format(datum.value, '.3f') : ''", "title": "Relative frequency"}},
   "y2": {"field": "hi"}}},
 {"data": {"name": "obs"}, "transform": [{"filter": "datum.p == 'a1'"}], "mark": {"type": "line", "color": "#e41e26", "strokeWidth": 1.7}, "encoding": {"x": {"field": "x", "type": "quantitative"}, "y": {"field": "y", "type": "quantitative"}}},
 {"data": {"name": "band"}, "transform": [{"filter": "datum.p == 'a1'"}], "mark": {"type": "line", "color": "#000", "strokeWidth": 2.1}, "encoding": {"x": {"field": "x", "type": "quantitative"}, "y": {"field": "m", "type": "quantitative"}}},
 {"data": {"name": "cuts"}, "transform": [{"filter": "datum.p == 'a1'"}], "mark": {"type": "rule", "color": "#000", "strokeWidth": 2, "strokeDash": [8, 8]}, "encoding": {"x": {"field": "x", "type": "quantitative"}, "y": {"datum": 0, "type": "quantitative"}, "y2": {"datum": 0.01}}}
]},
{"title": "MIRb", "width": 263, "height": 242, "layer": [
 {"data": {"name": "band"}, "transform": [{"filter": "datum.p == 'a2'"}], "mark": {"type": "area", "color": "#bccbd4", "opacity": 1},
  "encoding": {"x": {"field": "x", "type": "quantitative", "scale": {"domain": [-9.64, 277.64], "nice": false, "zero": false}, "axis": {"values": [0, 50, 100, 150, 200, 250], "title": "Position (bp)"}},
   "y": {"field": "lo", "type": "quantitative", "scale": {"domain": [-0.0004, 0.0104], "nice": false, "zero": false}, "axis": {"values": [0, 0.002, 0.004, 0.006, 0.008, 0.01], "labelExpr": "(datum.value < 0.0001 || abs(datum.value - 0.004) < 0.0001 || abs(datum.value - 0.008) < 0.0001) ? format(datum.value, '.3f') : ''", "title": "Relative frequency"}},
   "y2": {"field": "hi"}}},
 {"data": {"name": "obs"}, "transform": [{"filter": "datum.p == 'a2'"}], "mark": {"type": "line", "color": "#e41e26", "strokeWidth": 1.7}, "encoding": {"x": {"field": "x", "type": "quantitative"}, "y": {"field": "y", "type": "quantitative"}}},
 {"data": {"name": "band"}, "transform": [{"filter": "datum.p == 'a2'"}], "mark": {"type": "line", "color": "#000", "strokeWidth": 2.1}, "encoding": {"x": {"field": "x", "type": "quantitative"}, "y": {"field": "m", "type": "quantitative"}}},
 {"data": {"name": "cuts"}, "transform": [{"filter": "datum.p == 'a2'"}], "mark": {"type": "rule", "color": "#000", "strokeWidth": 2, "strokeDash": [8, 8]}, "encoding": {"x": {"field": "x", "type": "quantitative"}, "y": {"datum": 0, "type": "quantitative"}, "y2": {"datum": 0.01}}}
]},
{"title": "MIR3", "width": 263, "height": 242, "layer": [
 {"data": {"name": "band"}, "transform": [{"filter": "datum.p == 'a3'"}], "mark": {"type": "area", "color": "#bccbd4", "opacity": 1},
  "encoding": {"x": {"field": "x", "type": "quantitative", "scale": {"domain": [-7.2, 214.5], "nice": false, "zero": false}, "axis": {"values": [0, 50, 100, 150, 200], "title": "Position (bp)"}},
   "y": {"field": "lo", "type": "quantitative", "scale": {"domain": [-0.0004, 0.0104], "nice": false, "zero": false}, "axis": {"values": [0, 0.002, 0.004, 0.006, 0.008, 0.01], "labelExpr": "(datum.value < 0.0001 || abs(datum.value - 0.004) < 0.0001 || abs(datum.value - 0.008) < 0.0001) ? format(datum.value, '.3f') : ''", "title": "Relative frequency"}},
   "y2": {"field": "hi"}}},
 {"data": {"name": "obs"}, "transform": [{"filter": "datum.p == 'a3'"}], "mark": {"type": "line", "color": "#e41e26", "strokeWidth": 1.7}, "encoding": {"x": {"field": "x", "type": "quantitative"}, "y": {"field": "y", "type": "quantitative"}}},
 {"data": {"name": "band"}, "transform": [{"filter": "datum.p == 'a3'"}], "mark": {"type": "line", "color": "#000", "strokeWidth": 2.1}, "encoding": {"x": {"field": "x", "type": "quantitative"}, "y": {"field": "m", "type": "quantitative"}}},
 {"data": {"name": "cuts"}, "transform": [{"filter": "datum.p == 'a3'"}], "mark": {"type": "rule", "color": "#000", "strokeWidth": 2, "strokeDash": [8, 8]}, "encoding": {"x": {"field": "x", "type": "quantitative"}, "y": {"datum": 0, "type": "quantitative"}, "y2": {"datum": 0.01}}}
]}
]
},
{
"title": {"text": "(b)", "anchor": "start", "fontSize": 24, "fontWeight": "bold", "offset": 0, "dx": -86, "dy": 11},
"bounds": "flush",
"spacing": 106,
"hconcat": [
{"title": "MIR", "width": 263, "height": 242, "layer": [
 {"data": {"name": "band"}, "transform": [{"filter": "datum.p == 'b1'"}], "mark": {"type": "area", "color": "#bccbd4", "opacity": 1},
  "encoding": {"x": {"field": "x", "type": "quantitative", "scale": {"domain": [-9.44, 272.44], "nice": false, "zero": false}, "axis": {"values": [0, 50, 100, 150, 200, 250], "title": "Position (bp)"}},
   "y": {"field": "lo", "type": "quantitative", "scale": {"domain": [-0.0004, 0.0104], "nice": false, "zero": false}, "axis": {"values": [0, 0.002, 0.004, 0.006, 0.008, 0.01], "labelExpr": "(datum.value < 0.0001 || abs(datum.value - 0.004) < 0.0001 || abs(datum.value - 0.008) < 0.0001) ? format(datum.value, '.3f') : ''", "title": "Relative frequency"}},
   "y2": {"field": "hi"}}},
 {"data": {"name": "obs"}, "transform": [{"filter": "datum.p == 'b1'"}], "mark": {"type": "line", "color": "#e41e26", "strokeWidth": 1.7}, "encoding": {"x": {"field": "x", "type": "quantitative"}, "y": {"field": "y", "type": "quantitative"}}},
 {"data": {"name": "band"}, "transform": [{"filter": "datum.p == 'b1'"}], "mark": {"type": "line", "color": "#000", "strokeWidth": 2.1}, "encoding": {"x": {"field": "x", "type": "quantitative"}, "y": {"field": "m", "type": "quantitative"}}},
 {"data": {"name": "cuts"}, "transform": [{"filter": "datum.p == 'b1'"}], "mark": {"type": "rule", "color": "#000", "strokeWidth": 2, "strokeDash": [8, 8]}, "encoding": {"x": {"field": "x", "type": "quantitative"}, "y": {"datum": 0, "type": "quantitative"}, "y2": {"datum": 0.01}}}
]},
{"title": "MIRb", "width": 263, "height": 242, "layer": [
 {"data": {"name": "band"}, "transform": [{"filter": "datum.p == 'b2'"}], "mark": {"type": "area", "color": "#bccbd4", "opacity": 1},
  "encoding": {"x": {"field": "x", "type": "quantitative", "scale": {"domain": [-9.64, 277.64], "nice": false, "zero": false}, "axis": {"values": [0, 50, 100, 150, 200, 250], "title": "Position (bp)"}},
   "y": {"field": "lo", "type": "quantitative", "scale": {"domain": [-0.0004, 0.0104], "nice": false, "zero": false}, "axis": {"values": [0, 0.002, 0.004, 0.006, 0.008, 0.01], "labelExpr": "(datum.value < 0.0001 || abs(datum.value - 0.004) < 0.0001 || abs(datum.value - 0.008) < 0.0001) ? format(datum.value, '.3f') : ''", "title": "Relative frequency"}},
   "y2": {"field": "hi"}}},
 {"data": {"name": "obs"}, "transform": [{"filter": "datum.p == 'b2'"}], "mark": {"type": "line", "color": "#e41e26", "strokeWidth": 1.7}, "encoding": {"x": {"field": "x", "type": "quantitative"}, "y": {"field": "y", "type": "quantitative"}}},
 {"data": {"name": "band"}, "transform": [{"filter": "datum.p == 'b2'"}], "mark": {"type": "line", "color": "#000", "strokeWidth": 2.1}, "encoding": {"x": {"field": "x", "type": "quantitative"}, "y": {"field": "m", "type": "quantitative"}}},
 {"data": {"name": "cuts"}, "transform": [{"filter": "datum.p == 'b2'"}], "mark": {"type": "rule", "color": "#000", "strokeWidth": 2, "strokeDash": [8, 8]}, "encoding": {"x": {"field": "x", "type": "quantitative"}, "y": {"datum": 0, "type": "quantitative"}, "y2": {"datum": 0.01}}}
]},
{"title": "MIR3", "width": 263, "height": 242, "layer": [
 {"data": {"name": "band"}, "transform": [{"filter": "datum.p == 'b3'"}], "mark": {"type": "area", "color": "#bccbd4", "opacity": 1},
  "encoding": {"x": {"field": "x", "type": "quantitative", "scale": {"domain": [-7.2, 214.5], "nice": false, "zero": false}, "axis": {"values": [0, 50, 100, 150, 200], "title": "Position (bp)"}},
   "y": {"field": "lo", "type": "quantitative", "scale": {"domain": [-0.0004, 0.0104], "nice": false, "zero": false}, "axis": {"values": [0, 0.002, 0.004, 0.006, 0.008, 0.01], "labelExpr": "(datum.value < 0.0001 || abs(datum.value - 0.004) < 0.0001 || abs(datum.value - 0.008) < 0.0001) ? format(datum.value, '.3f') : ''", "title": "Relative frequency"}},
   "y2": {"field": "hi"}}},
 {"data": {"name": "obs"}, "transform": [{"filter": "datum.p == 'b3'"}], "mark": {"type": "line", "color": "#e41e26", "strokeWidth": 1.7}, "encoding": {"x": {"field": "x", "type": "quantitative"}, "y": {"field": "y", "type": "quantitative"}}},
 {"data": {"name": "band"}, "transform": [{"filter": "datum.p == 'b3'"}], "mark": {"type": "line", "color": "#000", "strokeWidth": 2.1}, "encoding": {"x": {"field": "x", "type": "quantitative"}, "y": {"field": "m", "type": "quantitative"}}},
 {"data": {"name": "cuts"}, "transform": [{"filter": "datum.p == 'b3'"}], "mark": {"type": "rule", "color": "#000", "strokeWidth": 2, "strokeDash": [8, 8]}, "encoding": {"x": {"field": "x", "type": "quantitative"}, "y": {"datum": 0, "type": "quantitative"}, "y2": {"datum": 0.01}}}
]}
]
}
]
}
